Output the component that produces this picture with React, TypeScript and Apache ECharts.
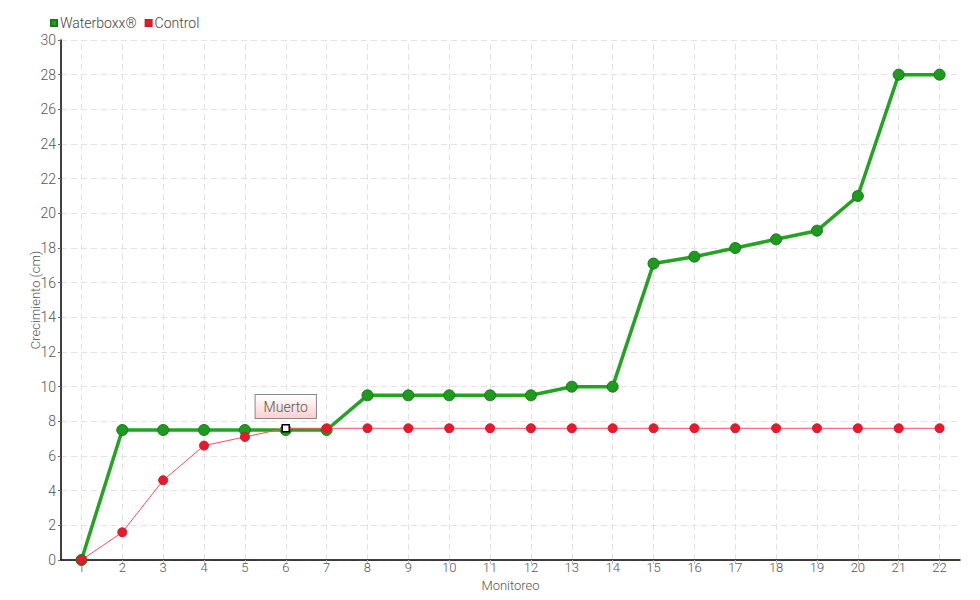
import React, { useEffect, useRef } from "react";
import * as echarts from "echarts";

const categories = ["1","2","3","4","5","6","7","8","9","10","11","12","13","14","15","16","17","18","19","20","21","22"];
const waterboxx = [0, 7.5, 7.5, 7.5, 7.5, 7.5, 7.5, 9.5, 9.5, 9.5, 9.5, 9.5, 10, 10, 17.1, 17.5, 18, 18.5, 19, 21, 28, 28];
const control = [0, 1.6, 4.6, 6.6, 7.1, 7.6, 7.6, 7.6, 7.6, 7.6, 7.6, 7.6, 7.6, 7.6, 7.6, 7.6, 7.6, 7.6, 7.6, 7.6, 7.6, 7.6];
const deathIndex = 5;
const deathLabel = "Muerto";

const FONT = "Roboto, 'Noto Sans', sans-serif";
const FW = 300;

export default function App() {
  const ref = useRef<HTMLDivElement>(null);
  useEffect(() => {
    if (!ref.current) return;
    const chart = echarts.init(ref.current, null, { renderer: "svg" });
    const controlData: any[] = control.map((v, i) =>
      i === deathIndex
        ? {
            value: v,
            symbol: "rect",
            symbolSize: 7,
            itemStyle: { color: "#ffffff", borderColor: "#000000", borderWidth: 1.5 },
            label: {
              show: true,
              position: "top",
              distance: 6,
              formatter: deathLabel,
              fontFamily: FONT,
              fontWeight: FW,
              fontSize: 14,
              color: "#555",
              backgroundColor: {
                type: "linear", x: 0, y: 0, x2: 0, y2: 1,
                colorStops: [{ offset: 0, color: "#ffffff" }, { offset: 1, color: "#fbd0d0" }],
              },
              borderColor: "#888",
              borderWidth: 1,
              padding: [5, 8, 4, 8],
            },
          }
        : v
    );
    chart.setOption({
      animation: false,
      textStyle: { fontFamily: FONT, fontWeight: FW },
      legend: {
        left: 45,
        top: 11,
        itemWidth: 6,
        itemHeight: 6,
        itemGap: 8,
        icon: "rect",
        textStyle: { fontFamily: FONT, fontWeight: FW, fontSize: 14, color: "#444", padding: [0, 0, 0, -2] },
        data: [
          { name: "Waterboxx®", itemStyle: { color: "#1ea01e" } },
          { name: "Control", itemStyle: { color: "#e8192c" } },
        ],
      },
      grid: { left: 61, right: 20, top: 40, bottom: 40, containLabel: false, outerBoundsMode: "none" },
      xAxis: {
        type: "category",
        data: categories,
        boundaryGap: true,
        name: "Monitoreo",
        nameLocation: "middle",
        nameGap: 19,
        nameMoveOverlap: false,
        nameTextStyle: { fontFamily: FONT, fontWeight: FW, fontSize: 13, lineHeight: 13, color: "#555" },
        axisLine: { lineStyle: { color: "#000", width: 1.5 } },
        axisTick: { show: true, alignWithLabel: true, length: 4, lineStyle: { color: "#bbb" } },
        axisLabel: { fontFamily: FONT, fontWeight: FW, fontSize: 13, lineHeight: 13, color: "#555", margin: 1 },
        splitLine: { show: false },
      },
      yAxis: {
        type: "value",
        min: 0,
        max: 30,
        interval: 2,
        name: "Crecimiento (cm)",
        nameLocation: "middle",
        nameGap: 19,
        nameMoveOverlap: false,
        nameTextStyle: { fontFamily: FONT, fontWeight: FW, fontSize: 13, color: "#555" },
        axisLine: { show: true, lineStyle: { color: "#000", width: 1.5 } },
        axisTick: { show: true, length: 3, lineStyle: { color: "#666" } },
        axisLabel: { fontFamily: FONT, fontWeight: FW, fontSize: 14, color: "#555", margin: 5 },
        splitLine: { show: true, lineStyle: { color: "#e3e3e3", type: [6, 4], width: 1 } },
      },
      series: [
        {
          name: "Waterboxx®",
          type: "line",
          data: waterboxx,
          symbol: "circle",
          symbolSize: 11,
          lineStyle: { color: "#22a322", width: 3.5 },
          itemStyle: { color: "#1e9a1e", borderColor: "#197a19", borderWidth: 1 },
          z: 2,
          markLine: {
            silent: true,
            symbol: "none",
            label: { show: false },
            lineStyle: { color: "#e3e3e3", type: [6, 4], width: 1 },
            data: categories.map((c) => ({ xAxis: c })),
            z: 0,
          },
        },
        {
          name: "Control",
          type: "line",
          data: controlData,
          symbol: "circle",
          symbolSize: 9,
          lineStyle: { color: "#ff4d5e", width: 1 },
          itemStyle: { color: "#e8192c", borderColor: "#d31a2a", borderWidth: 1 },
          z: 3,
        },
      ],
    });
    return () => chart.dispose();
  }, []);
  return <div ref={ref} style={{ width: 980, height: 600, position: "absolute", left: 0, top: 0 }} />;
}
